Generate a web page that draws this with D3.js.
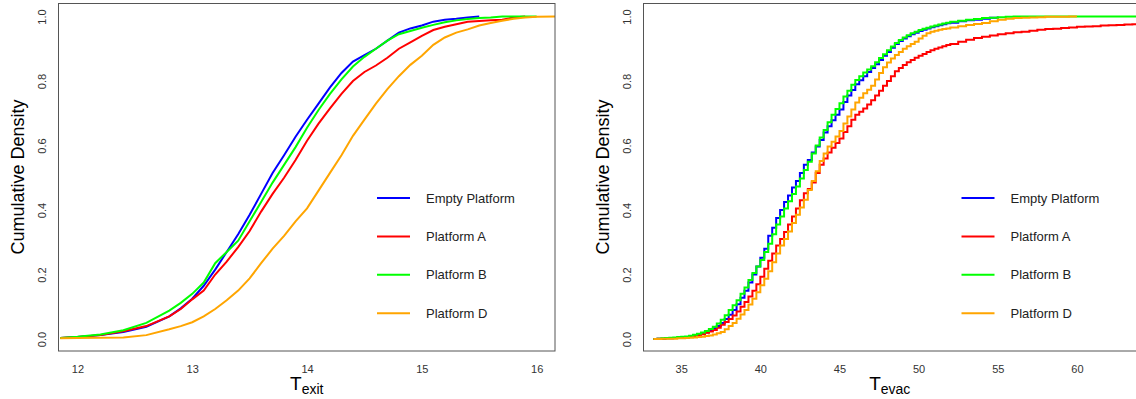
<!DOCTYPE html>
<html>
<head>
<meta charset="utf-8">
<script src="https://d3js.org/d3.v7.min.js"></script>
<style>
body { margin: 0; background: #fff; }
svg { font-family: "Liberation Sans", Arial, sans-serif; }
.tick text { fill: #333; font-size: 11px; }
</style>
</head>
<body>
<svg width="1136" height="399"></svg>
<script>
// legend / series
const seriesNames = ["Empty Platform", "Platform A", "Platform B", "Platform D"];
const seriesColors = ["#0000ff", "#ff0000", "#00ff00", "#ffa500"];

const yTicks = [0, 0.2, 0.4, 0.6, 0.8, 1.0];
const exitTicks = [12, 13, 14, 15, 16];
const evacTicks = [35, 40, 45, 50, 55, 60];

// left panel: exit time grid and ECDF values (null = series ended)
const tExit = [11.85, 12.0, 12.2, 12.4, 12.6, 12.8,
  12.9, 13.0, 13.1, 13.2, 13.3, 13.4, 13.5, 13.6, 13.7, 13.8, 13.9, 14.0,
  14.1, 14.2, 14.3, 14.4, 14.5, 14.6, 14.7, 14.8, 14.9, 15.0,
  15.1, 15.2, 15.3, 15.4, 15.5, 15.6, 15.7, 15.8, 15.9, 16.0, 16.16];
const exitEmpty = [0.003, 0.006, 0.012, 0.022, 0.038, 0.07,
  0.095, 0.125, 0.165, 0.215, 0.27, 0.325, 0.385, 0.45, 0.515, 0.57, 0.627, 0.68,
  0.73, 0.78, 0.825, 0.86, 0.88, 0.9, 0.925, 0.95, 0.963, 0.972,
  0.984, 0.99, 0.993, 0.997, 1.0, null, null, null, null, null, null];
const exitA = [0.003, 0.006, 0.012, 0.024, 0.04, 0.07,
  0.093, 0.123, 0.15, 0.2, 0.24, 0.285, 0.335, 0.395, 0.45, 0.5, 0.555, 0.615,
  0.668, 0.715, 0.76, 0.8, 0.828, 0.848, 0.872, 0.9, 0.92, 0.94,
  0.958, 0.968, 0.976, 0.984, 0.986, 0.988, 0.99, 0.997, 1.0, null, null];
const exitB = [0.003, 0.007, 0.014, 0.027, 0.05, 0.088,
  0.112, 0.14, 0.175, 0.235, 0.27, 0.305, 0.365, 0.425, 0.485, 0.54, 0.595, 0.655,
  0.71, 0.76, 0.805, 0.845, 0.875, 0.9, 0.925, 0.945, 0.955, 0.965,
  0.974, 0.982, 0.988, 0.992, 0.995, 0.997, 1.0, 1.0, 1.0, 1.0, null];
const exitD = [0.002, 0.003, 0.004, 0.005, 0.012, 0.03,
  0.04, 0.052, 0.07, 0.093, 0.12, 0.15, 0.188, 0.235, 0.28, 0.32, 0.365, 0.405,
  0.46, 0.515, 0.57, 0.63, 0.68, 0.73, 0.775, 0.815, 0.85, 0.878,
  0.912, 0.935, 0.95, 0.96, 0.972, 0.98, 0.987, 0.993, 0.997, 0.999, 1.0];

// right panel: evacuation time grid and ECDF values
const tEvac = [33.25, 33.5, 33.75, 34, 34.25, 34.5, 34.75, 35, 35.25, 35.5, 35.75, 36,
  36.25, 36.5, 36.75, 37, 37.25, 37.5, 37.75, 38, 38.25, 38.5, 38.75, 39,
  39.25, 39.5, 39.75, 40, 40.25, 40.5, 40.75, 41, 41.25, 41.5, 41.75, 42,
  42.25, 42.5, 42.75, 43, 43.25, 43.5, 43.75, 44, 44.25, 44.5, 44.75, 45,
  45.25, 45.5, 45.75, 46, 46.25, 46.5, 46.75, 47, 47.25, 47.5, 47.75, 48,
  48.25, 48.5, 48.75, 49, 49.25, 49.5, 49.75, 50, 50.25, 50.5, 50.75, 51,
  51.25, 51.5, 51.75, 52,
  52.5, 53, 53.5, 54, 54.5, 55, 55.5, 56, 56.5, 57, 57.5, 58,
  58.5, 59, 59.5, 60, 60.5, 61, 61.5, 62, 62.5, 63, 63.5, 64];
const evacEmpty = [0, 0.001, 0.001, 0.002, 0.002, 0.003, 0.004, 0.005, 0.006, 0.008, 0.01, 0.013,
  0.016, 0.02, 0.026, 0.033, 0.04, 0.05, 0.062, 0.075, 0.09, 0.108, 0.128, 0.15,
  0.175, 0.2, 0.225, 0.252, 0.28, 0.32, 0.345, 0.375, 0.4, 0.425, 0.445, 0.47,
  0.49, 0.515, 0.54, 0.555, 0.578, 0.597, 0.617, 0.64, 0.66, 0.678, 0.695, 0.712,
  0.735, 0.755, 0.772, 0.79, 0.802, 0.815, 0.828, 0.84, 0.852, 0.865, 0.878, 0.89,
  0.903, 0.915, 0.924, 0.932, 0.939, 0.945, 0.95, 0.955, 0.959, 0.963, 0.967, 0.97,
  0.973, 0.976, 0.979, 0.981,
  0.985, 0.988, 0.99, 0.993, 0.996, 1.0, null, null, null, null, null, null,
  null, null, null, null, null, null, null, null, null, null, null, null];
const evacA = [0, 0.001, 0.001, 0.002, 0.002, 0.003, 0.003, 0.004, 0.005, 0.007, 0.009, 0.012,
  0.015, 0.019, 0.023, 0.028, 0.035, 0.044, 0.053, 0.062, 0.073, 0.085, 0.1, 0.115,
  0.132, 0.15, 0.17, 0.193, 0.218, 0.243, 0.265, 0.29, 0.31, 0.332, 0.355, 0.38,
  0.405, 0.43, 0.452, 0.465, 0.485, 0.515, 0.54, 0.56, 0.578, 0.593, 0.608, 0.622,
  0.642, 0.66, 0.68, 0.695, 0.705, 0.715, 0.727, 0.74, 0.755, 0.77, 0.785, 0.8,
  0.815, 0.83, 0.84, 0.85, 0.858, 0.865, 0.872, 0.878, 0.884, 0.89, 0.895, 0.9,
  0.904, 0.908, 0.912, 0.915,
  0.922, 0.928, 0.933, 0.937, 0.941, 0.945, 0.948, 0.951, 0.953, 0.956, 0.959, 0.961,
  0.962, 0.964, 0.966, 0.968, 0.969, 0.97, 0.972, 0.973, 0.974, 0.975, 0.976, 0.976];
const evacB = [0, 0.001, 0.002, 0.003, 0.004, 0.005, 0.006, 0.007, 0.008, 0.01, 0.013, 0.016,
  0.02, 0.025, 0.031, 0.038, 0.048, 0.06, 0.074, 0.09, 0.105, 0.12, 0.14, 0.16,
  0.183, 0.205, 0.225, 0.245, 0.27, 0.295, 0.325, 0.355, 0.38, 0.405, 0.427, 0.45,
  0.473, 0.498, 0.524, 0.55, 0.575, 0.6, 0.625, 0.648, 0.672, 0.695, 0.713, 0.731,
  0.752, 0.77, 0.788, 0.803, 0.815, 0.826, 0.836, 0.846, 0.858, 0.871, 0.883, 0.895,
  0.907, 0.918, 0.927, 0.935, 0.942, 0.948, 0.953, 0.958, 0.962, 0.965, 0.969, 0.972,
  0.975, 0.978, 0.981, 0.984,
  0.987, 0.99, 0.992, 0.995, 0.996, 0.998, 0.999, 1.0, 1.0, 1.0, 1.0, 1.0,
  1.0, 1.0, 1.0, 1.0, 1.0, 1.0, 1.0, 1.0, 1.0, 1.0, 1.0, 1.0];
const evacD = [0, 0, 0.001, 0.001, 0.001, 0.001, 0.002, 0.002, 0.003, 0.004, 0.005, 0.006,
  0.007, 0.009, 0.011, 0.014, 0.018, 0.022, 0.03, 0.04, 0.05, 0.063, 0.076, 0.09,
  0.107, 0.125, 0.145, 0.167, 0.187, 0.21, 0.238, 0.265, 0.29, 0.31, 0.333, 0.36,
  0.385, 0.408, 0.432, 0.462, 0.49, 0.52, 0.552, 0.575, 0.597, 0.612, 0.628, 0.645,
  0.668, 0.69, 0.712, 0.733, 0.748, 0.762, 0.773, 0.785, 0.805, 0.825, 0.843, 0.857,
  0.87, 0.881, 0.89, 0.9, 0.908, 0.915, 0.922, 0.932, 0.94, 0.948, 0.953, 0.956,
  0.959, 0.961, 0.963, 0.966,
  0.97, 0.974, 0.977, 0.98, 0.985, 0.99, 0.993, 0.995, 0.996, 0.997, 0.998, 0.999,
  0.999, 0.999, 1.0, 1.0, null, null, null, null, null, null, null, null];

const svg = d3.select("svg");
const y = d3.scaleLinear().domain([0, 1]).range([339, 16.5]);

function panel(opts) {
  const x = opts.x;
  const [x0, x1] = x.range();
  const g = svg.append("g");

  // data
  const line = d3.line()
    .defined(d => d[1] != null)
    .x(d => x(d[0]))
    .y(d => y(d[1]))
    .curve(opts.curve);
  opts.series.forEach((vals, i) => {
    g.append("path")
      .datum(opts.t.map((t, j) => [t, vals[j]]))
      .attr("fill", "none")
      .attr("stroke", seriesColors[i])
      .attr("stroke-width", 2)
      .attr("d", line);
  });

  // box
  g.append("rect")
    .attr("x", x0).attr("y", 3.5)
    .attr("width", x1 - x0).attr("height", 351 - 3.5)
    .attr("fill", "none").attr("stroke", "#555").attr("stroke-width", 1);

  // axes
  g.append("g")
    .attr("transform", "translate(0,351)")
    .call(d3.axisBottom(x).tickValues(opts.ticks).tickSize(0).tickPadding(14).tickFormat(d3.format("d")))
    .call(a => a.select(".domain").remove());
  g.append("g")
    .attr("transform", "translate(" + x0 + ",0)")
    .call(d3.axisLeft(y).tickValues(yTicks).tickSize(0).tickFormat(d3.format(".1f")))
    .call(a => a.select(".domain").remove())
    .call(a => a.selectAll(".tick text")
      .attr("x", 0).attr("dy", 0)
      .attr("text-anchor", "middle")
      .attr("transform", "translate(-13,0) rotate(-90)"));

  // titles
  g.append("text")
    .attr("transform", "translate(" + (x0 - 35) + ",177) rotate(-90)")
    .attr("text-anchor", "middle")
    .attr("font-size", 18)
    .text("Cumulative Density");
  const xt = g.append("text")
    .attr("x", (x0 + Math.min(x1, 1136)) / 2)
    .attr("y", 390)
    .attr("text-anchor", "middle")
    .attr("font-size", 19);
  xt.append("tspan").text("T");
  xt.append("tspan").attr("font-size", 14).attr("dy", 4).text(opts.sub);

  // legend
  const lg = g.append("g").attr("transform", "translate(" + opts.legendX + ",0)");
  const rows = lg.selectAll("g").data(seriesNames).join("g")
    .attr("transform", (d, i) => "translate(0," + (198 + i * 38.4) + ")");
  rows.append("line")
    .attr("x1", 0).attr("x2", 33)
    .attr("stroke", (d, i) => seriesColors[i]).attr("stroke-width", 2);
  rows.append("text")
    .attr("x", 49).attr("y", 4.5)
    .attr("font-size", 13)
    .attr("fill", "#222")
    .text(d => d);
}

panel({
  x: d3.scaleLinear().domain([11.835, 16.16]).range([58.5, 555]),
  t: tExit,
  series: [exitEmpty, exitA, exitB, exitD],
  curve: d3.curveLinear,
  ticks: exitTicks,
  sub: "exit",
  legendX: 377
});

panel({
  x: d3.scaleLinear().domain([32.62, 64.3]).range([643.5, 1145]),
  t: tEvac,
  series: [evacEmpty, evacA, evacB, evacD],
  curve: d3.curveStepAfter,
  ticks: evacTicks,
  sub: "evac",
  legendX: 961.5
});
</script>
</body>
</html>
